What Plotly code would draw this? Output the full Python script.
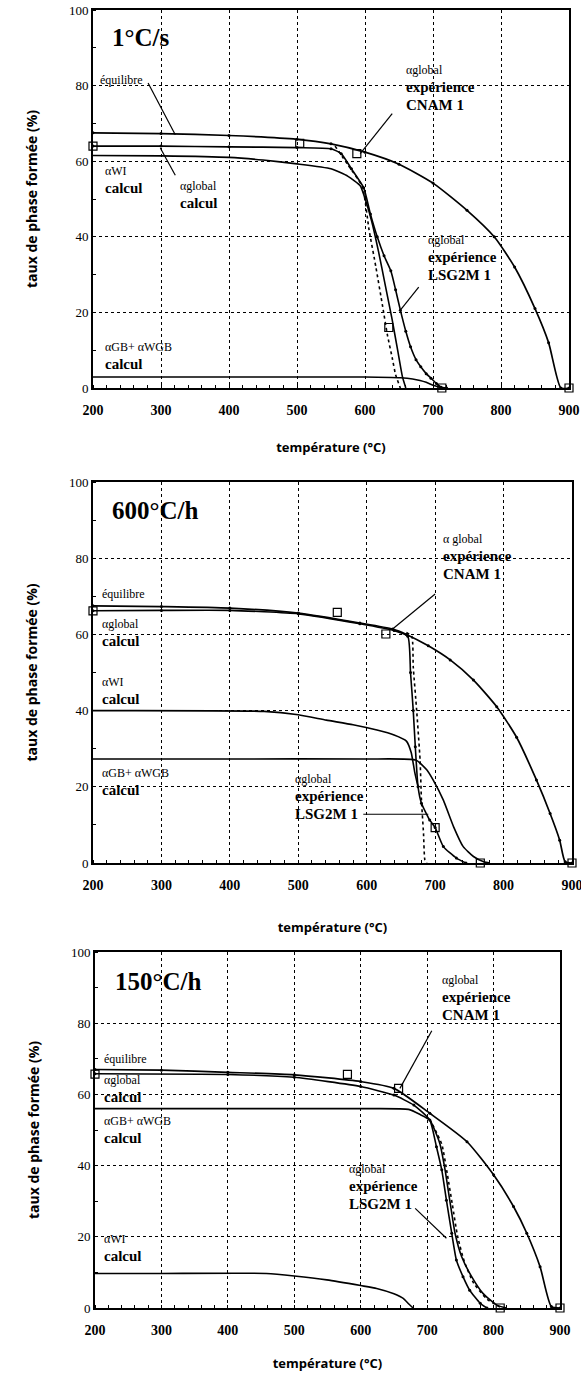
import plotly.graph_objects as go

# ---------------- DATA ----------------
TEMP_TICKS = [200, 300, 400, 500, 600, 700, 800, 900]
PCT_TICKS = [0, 20, 40, 60, 80, 100]
PANEL_TITLES = ["1°C/s", "600°C/h", "150°C/h"]
X_TITLE = "température (°C)"
Y_TITLE = "taux de phase formée (%)"

# Panel 1 : 1°C/s
p1_eq_x = [200, 300, 400, 500, 550, 600, 650, 700, 750, 790, 820, 850, 870, 888, 900]
p1_eq_y = [67.5, 67.3, 66.8, 65.8, 64.6, 62.4, 59.2, 54.2, 47.0, 40.0, 32.0, 21.0, 12.0, 0, 0]
p1_glob_x = [200, 300, 400, 500, 550, 565, 580, 598, 608, 618, 628, 638, 645, 652, 660, 667, 675, 682, 690, 697, 705, 712, 720]
p1_glob_y = [64.0, 64.0, 63.8, 63.6, 63.3, 62.0, 58.0, 53.0, 46.0, 40.0, 35.0, 31.0, 26.0, 20.6, 15.0, 10.9, 7.5, 5.6, 3.8, 2.6, 1.2, 0.2, 0]
p1_wi_x = [200, 300, 400, 450, 500, 550, 575, 593, 602, 610, 620, 630, 640, 648, 655, 660]
p1_wi_y = [61.5, 61.4, 61.0, 60.3, 59.3, 58.0, 56.0, 53.5, 49.0, 44.0, 36.0, 27.0, 18.0, 10.0, 3.0, 0]
p1_lsg_x = [556, 575, 596, 606, 616, 626, 633, 640, 645, 652]
p1_lsg_y = [64.0, 59.0, 53.3, 41.8, 32.0, 21.5, 14.0, 8.0, 3.5, 0]
p1_gb_x = [200, 400, 600, 652, 670, 681, 690, 700, 708, 715]
p1_gb_y = [2.9, 2.9, 2.9, 2.7, 2.4, 2.0, 1.5, 0.7, 0.3, 0]
p1_cnam_x = [200, 504, 588, 635, 713, 900]
p1_cnam_y = [64.0, 64.7, 62.0, 16.0, 0, 0]

# Panel 2 : 600°C/h
p2_eq_x = [200, 300, 400, 500, 590, 638, 658, 690, 722, 756, 790, 819, 848, 868, 882, 890, 900]
p2_eq_y = [67.5, 67.3, 66.9, 65.6, 63.0, 61.4, 60.0, 57.0, 53.3, 48.0, 41.0, 33.0, 21.8, 13.0, 6.0, 0.3, 0]
p2_glob_x = [200, 300, 400, 500, 590, 640, 660, 664, 668, 671, 675, 680, 692, 700, 712, 731, 745]
p2_glob_y = [66.2, 66.3, 66.3, 65.4, 62.8, 61.0, 59.5, 50.0, 40.0, 30.5, 20.0, 15.7, 11.3, 9.3, 4.3, 1.3, 0]
p2_wi_x = [200, 450, 500, 541, 580, 615, 640, 658, 665, 670, 675]
p2_wi_y = [40.0, 39.8, 38.9, 37.5, 36.3, 34.9, 33.6, 32.0, 29.0, 24.0, 20.0]
p2_lsg_x = [658, 666, 668, 673, 678, 680, 683, 685, 688]
p2_lsg_y = [60.5, 59.4, 51.5, 40.0, 27.0, 16.5, 7.8, 0.8, 0]
p2_gb_x = [200, 400, 600, 672, 688, 697, 712, 727, 741, 756, 771, 780]
p2_gb_y = [27.3, 27.3, 27.3, 27.0, 24.4, 21.8, 16.5, 9.5, 4.3, 1.7, 0.3, 0]
p2_cnam_x = [200, 557, 628, 700, 766, 900]
p2_cnam_y = [66.2, 65.8, 60.1, 9.3, 0, 0]

# Panel 3 : 150°C/h
p3_eq_x = [200, 300, 400, 500, 600, 650, 704, 760, 800, 830, 850, 870, 887, 900]
p3_eq_y = [67.0, 66.8, 66.2, 65.5, 63.6, 61.7, 54.7, 46.7, 37.4, 28.5, 21.0, 11.6, 0.4, 0]
p3_glob_x = [200, 400, 500, 600, 650, 680, 704, 714, 722, 729, 737, 744, 754, 764, 780, 790]
p3_glob_y = [65.8, 65.6, 64.8, 62.2, 59.8, 57.0, 52.8, 45.3, 38.8, 30.3, 21.0, 13.5, 8.8, 5.0, 1.3, 0]
p3_gb_x = [200, 400, 600, 672, 690, 704, 719, 727, 734, 742, 752, 767, 784, 805, 820]
p3_gb_y = [56.0, 56.0, 56.0, 55.8, 54.3, 52.8, 46.3, 38.8, 30.3, 21.0, 14.4, 8.8, 4.1, 0.8, 0]
p3_lsg_x = [704, 722, 730, 738, 746, 756, 770, 790, 812]
p3_lsg_y = [53.0, 46.0, 38.0, 29.0, 20.0, 13.0, 7.0, 2.5, 0]
p3_wi_x = [200, 300, 458, 500, 549, 600, 624, 650, 664, 672, 679]
p3_wi_y = [9.7, 9.7, 9.7, 9.0, 7.9, 6.3, 5.5, 4.0, 2.7, 1.2, 0]
p3_cnam_x = [200, 580, 657, 810, 900]
p3_cnam_y = [65.7, 65.6, 61.7, 0, 0]

# ---------------- LAYOUT HELPERS ----------------
W, H = 581, 1373
SERIF = "Liberation Serif"
SANS = "Open Sans"

# frame pixel boxes (left, right, top, bottom)
FRAMES = [(93, 569, 10, 388), (93, 572, 482, 863), (95, 560, 952, 1308)]
X_TITLE_STANDOFF = [26, 31, 22]

# text labels: (x, y, [(text, bold)]) in data coords
LABELS = [
    [
        (207, 81.5, [("équilibre", False)]),
        (215, 55.1, [("αWI", False), ("calcul", True)]),
        (325, 51.0, [("αglobal", False), ("calcul", True)]),
        (657, 79.3, [("αglobal", False), ("expérience", True), ("CNAM 1", True)]),
        (689, 34.3, [("αglobal", False), ("expérience", True), ("LSG2M 1", True)]),
        (215, 8.5, [("αGB+ αWGB", False), ("calcul", True)]),
    ],
    [
        (210, 70.6, [("équilibre", False)]),
        (210, 60.5, [("αglobal", False), ("calcul", True)]),
        (210, 45.2, [("αWI", False), ("calcul", True)]),
        (210, 21.3, [("αGB+ αWGB", False), ("calcul", True)]),
        (709, 80.3, [("α global", False), ("expérience", True), ("CNAM 1", True)]),
        (492, 17.2, [("αglobal", False), ("expérience", True), ("LSG2M 1", True)]),
    ],
    [
        (210, 70.0, [("équilibre", False)]),
        (210, 61.5, [("αglobal", False), ("calcul", True)]),
        (210, 49.9, [("αGB+ αWGB", False), ("calcul", True)]),
        (210, 16.8, [("αWI", False), ("calcul", True)]),
        (719, 87.0, [("αglobal", False), ("expérience", True), ("CNAM 1", True)]),
        (579, 33.9, [("αglobal", False), ("expérience", True), ("LSG2M 1", True)]),
    ],
]
TITLE_POS = [(225, 92.6), (225, 92.4), (227, 91.7)]

# pointer lines (x0, y0, x1, y1)
POINTERS = [
    [(281, 80.7, 321, 67.0), (299, 63.5, 321, 56.3), (640, 72.6, 593, 62.0), (679, 26.7, 652, 20.6)],
    [(700, 70.6, 636.5, 61.2), (595, 12.8, 690, 12.8)],
    [(707, 77.9, 659, 61.7), (682, 28.0, 729, 19.6)],
]

PANELS = [
    dict(eq=(p1_eq_x, p1_eq_y), glob=(p1_glob_x, p1_glob_y), wi=(p1_wi_x, p1_wi_y),
         lsg=(p1_lsg_x, p1_lsg_y), gb=(p1_gb_x, p1_gb_y), cnam=(p1_cnam_x, p1_cnam_y)),
    dict(eq=(p2_eq_x, p2_eq_y), glob=(p2_glob_x, p2_glob_y), wi=(p2_wi_x, p2_wi_y),
         lsg=(p2_lsg_x, p2_lsg_y), gb=(p2_gb_x, p2_gb_y), cnam=(p2_cnam_x, p2_cnam_y)),
    dict(eq=(p3_eq_x, p3_eq_y), glob=(p3_glob_x, p3_glob_y), wi=(p3_wi_x, p3_wi_y),
         lsg=(p3_lsg_x, p3_lsg_y), gb=(p3_gb_x, p3_gb_y), cnam=(p3_cnam_x, p3_cnam_y)),
]

fig = go.Figure()

for i, pdata in enumerate(PANELS):
    xa = "x" if i == 0 else f"x{i+1}"
    ya = "y" if i == 0 else f"y{i+1}"
    common = dict(xaxis=xa, yaxis=ya, showlegend=False, hoverinfo="skip")
    fig.add_trace(go.Scatter(x=pdata["eq"][0], y=pdata["eq"][1], mode="lines+markers",
                             line=dict(color="black", width=1.7, shape="spline", smoothing=0.6),
                             marker=dict(size=3, color="black"), **common))
    fig.add_trace(go.Scatter(x=pdata["glob"][0], y=pdata["glob"][1], mode="lines+markers",
                             line=dict(color="black", width=1.6, shape="spline", smoothing=0.5),
                             marker=dict(size=3, color="black"), **common))
    fig.add_trace(go.Scatter(x=pdata["wi"][0], y=pdata["wi"][1], mode="lines",
                             line=dict(color="black", width=1.6, shape="spline", smoothing=0.5), **common))
    fig.add_trace(go.Scatter(x=pdata["lsg"][0], y=pdata["lsg"][1], mode="lines",
                             line=dict(color="black", width=1.6, dash="dot", shape="spline", smoothing=0.5), **common))
    fig.add_trace(go.Scatter(x=pdata["gb"][0], y=pdata["gb"][1], mode="lines",
                             line=dict(color="black", width=1.6, shape="spline", smoothing=0.5), **common))
    fig.add_trace(go.Scatter(x=pdata["cnam"][0], y=pdata["cnam"][1], mode="markers",
                             marker=dict(symbol="square-open", size=8, color="black", line=dict(width=1.2)),
                             cliponaxis=False, **common))
    for (x0, y0, x1, y1) in POINTERS[i]:
        fig.add_trace(go.Scatter(x=[x0, x1], y=[y0, y1], mode="lines",
                                 line=dict(color="black", width=1.2), **common))

    # axes
    l, r, t, b = FRAMES[i]
    xkey = "xaxis" if i == 0 else f"xaxis{i+1}"
    ykey = "yaxis" if i == 0 else f"yaxis{i+1}"
    fig.update_layout(**{
        xkey: dict(domain=[l / W, r / W], anchor=ya, range=[200, 900], automargin=False,
                   tickvals=TEMP_TICKS, ticktext=[str(v) for v in TEMP_TICKS],
                   ticklabeloverflow="allow",
                   showgrid=True, gridcolor="black", griddash="dot", gridwidth=1.4,
                   showline=True, linecolor="black", linewidth=1.6, mirror=True,
                   zeroline=False, ticks="", ticklabelstandoff=8,
                   minor=dict(ticks="inside", ticklen=3, dtick=20, tickcolor="black", showgrid=False),
                   tickfont=dict(family=SERIF, size=14, color="black", weight="bold"),
                   title=dict(text=X_TITLE, standoff=X_TITLE_STANDOFF[i],
                              font=dict(family=SANS, size=13, color="black", weight="bold"))),
        ykey: dict(domain=[1 - b / H, 1 - t / H], anchor=xa, range=[0, 100], automargin=False,
                   tickvals=PCT_TICKS, ticktext=[str(v) for v in PCT_TICKS],
                   ticklabeloverflow="allow",
                   showgrid=True, gridcolor="black", griddash="dot", gridwidth=1.4,
                   showline=True, linecolor="black", linewidth=1.6, mirror=True,
                   zeroline=False, ticks="",
                   minor=dict(ticks="inside", ticklen=3, dtick=10, tickcolor="black", showgrid=False),
                   tickfont=dict(family=SERIF, size=13, color="black"),
                   title=dict(text=Y_TITLE, standoff=28,
                              font=dict(family=SANS, size=14, color="black", weight="bold"))),
    })

    # panel title
    tx, ty = TITLE_POS[i]
    fig.add_annotation(x=tx, y=ty, xref=xa, yref=ya, text=f"<b>{PANEL_TITLES[i]}</b>",
                       showarrow=False, xanchor="left", yanchor="middle",
                       font=dict(family=SERIF, size=25, color="black"))
    # labels
    for (lx, ly, lines) in LABELS[i]:
        parts = []
        for txt, bold in lines:
            if bold:
                parts.append(f"<span style='font-size:15px'><b>{txt}</b></span>")
            else:
                parts.append(f"<span style='font-size:12px'>{txt}</span>")
        fig.add_annotation(x=lx, y=ly, xref=xa, yref=ya, text="<br>".join(parts),
                           showarrow=False, xanchor="left", yanchor="middle", align="left",
                           font=dict(family=SERIF, size=14, color="black"))

fig.update_layout(width=W, height=H, margin=dict(l=0, r=0, t=0, b=0),
                  paper_bgcolor="white", plot_bgcolor="white", showlegend=False)

fig.write_html("out.html", config={"displayModeBar": False},
               post_script="document.body.style.margin='0';document.body.style.padding='0';")
